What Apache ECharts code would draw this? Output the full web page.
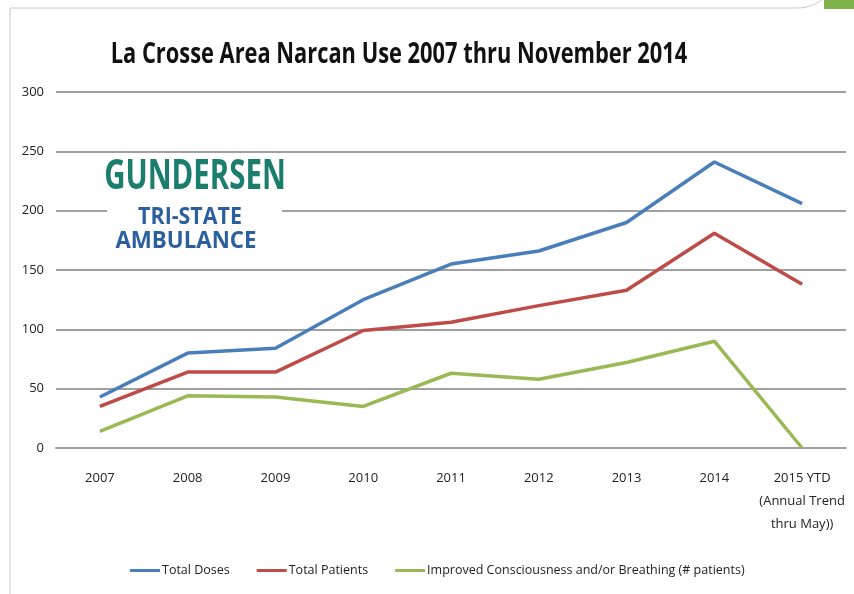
<!DOCTYPE html>
<html>
<head>
<meta charset="utf-8">
<script src="https://cdn.jsdelivr.net/npm/echarts@6/dist/echarts.min.js"></script>
<style>
  html, body { margin: 0; padding: 0; background: #fff; }
  #chart { width: 854px; height: 594px; }
</style>
</head>
<body>
<div id="chart"></div>
<script>
// data
const categories = ['2007', '2008', '2009', '2010', '2011', '2012', '2013', '2014', '2015 YTD\n(Annual Trend\nthru May))']
const totalDoses = [43, 80, 84, 125, 155, 166, 190, 241, 206]
const totalPatients = [35, 64, 64, 99, 106, 120, 133, 181, 138]
const improved = [14, 44, 43, 35, 63, 58, 72, 90, 0]

const font = '"Open Sans", sans-serif'

const chart = echarts.init(document.getElementById('chart'))

// narrow bold text (no condensed font installed, so squeeze it)
const squeezed = (text, x, y, size, scale, color) => ({
  type: 'text', x: x, y: y, scaleX: scale, z: 11,
  style: { text: text, fill: color, font: 'bold ' + size + 'px ' + font, align: 'center', verticalAlign: 'middle' }
})

chart.setOption({
  animation: false,
  backgroundColor: '#fff',
  color: ['#4a7ebb', '#be4b48', '#98b954'],
  legend: {
    top: 559,
    left: 125,
    itemWidth: 30,
    itemHeight: 3,
    itemGap: 27,
    icon: 'rect',
    textStyle: { fontFamily: font, fontSize: 12.5, color: '#222', padding: [0, 0, 0, -3] },
    data: ['Total Doses', 'Total Patients', 'Improved Consciousness and/or Breathing (# patients)']
  },
  grid: { left: 56, right: 8, top: 92, bottom: 146 },
  xAxis: {
    type: 'category',
    data: categories,
    boundaryGap: true,
    axisLine: { lineStyle: { color: '#a0a0a0', width: 2 } },
    axisTick: { show: false },
    axisLabel: { fontFamily: font, fontSize: 13, color: '#222', margin: 19, lineHeight: 23, interval: 0 }
  },
  yAxis: {
    type: 'value',
    min: 0,
    max: 300,
    interval: 50,
    axisLine: { show: false },
    axisTick: { show: false },
    axisLabel: { fontFamily: font, fontSize: 13, color: '#222', margin: 12 },
    splitLine: { lineStyle: { color: '#a0a0a0', width: 2 } }
  },
  series: [
    { name: 'Total Doses', type: 'line', data: totalDoses, showSymbol: false, lineStyle: { width: 3.5 }, z: 3 },
    { name: 'Total Patients', type: 'line', data: totalPatients, showSymbol: false, lineStyle: { width: 3.5 }, z: 3 },
    { name: 'Improved Consciousness and/or Breathing (# patients)', type: 'line', data: improved, showSymbol: false, lineStyle: { width: 3.5 }, z: 3 }
  ],
  graphic: [
    // outer frame of the picture
    { type: 'line', shape: { x1: 10, y1: 8, x2: 10, y2: 594 }, style: { stroke: '#c8c8c8', lineWidth: 1 } },
    { type: 'line', shape: { x1: 10, y1: 8, x2: 798, y2: 8 }, style: { stroke: '#c8c8c8', lineWidth: 1 } },
    { type: 'bezierCurve', shape: { x1: 798, y1: 8, x2: 822, y2: 0, cpx1: 808, cpy1: 8, cpx2: 816, cpy2: 4 }, style: { stroke: '#c8c8c8', lineWidth: 1, fill: 'none' } },
    { type: 'rect', shape: { x: 824, y: 0, width: 30, height: 9 }, style: { fill: '#7fb24a' } },
    // title
    squeezed('La Crosse Area Narcan Use 2007 thru November 2014', 399, 55, 28, 0.78, '#111'),
    // logo block over the gridlines
    { type: 'rect', shape: { x: 107, y: 156, width: 175, height: 98 }, style: { fill: '#fff' }, z: 10 },
    squeezed('GUNDERSEN', 195, 177, 42, 0.70, '#1b7d6c'),
    squeezed('TRI-STATE', 190, 217, 23, 0.93, '#2c5f9e'),
    squeezed('AMBULANCE', 186, 241, 23, 0.97, '#2c5f9e')
  ]
})
</script>
</body>
</html>
